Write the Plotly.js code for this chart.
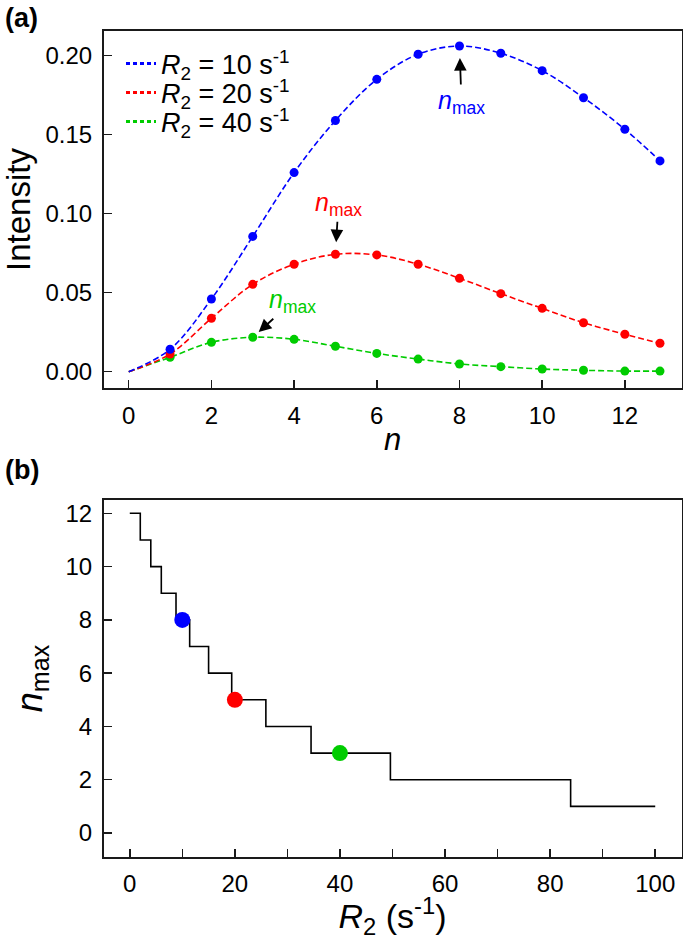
<!DOCTYPE html>
<html>
<head>
<meta charset="utf-8">
<script src="https://cdn.plot.ly/plotly-3.0.1.min.js"></script>
<style>html,body{margin:0;padding:0;background:#fff;}#chart{width:685px;height:940px;}</style>
</head>
<body>
<div id="chart"></div>
<script>
// ---- Data ----
const nValues = [0, 1, 2, 3, 4, 5, 6, 7, 8, 9, 10, 11, 12, 12.85];
const intensityR10 = [0, 0.0142, 0.046, 0.0856, 0.126, 0.159, 0.185, 0.2009, 0.2061, 0.2015, 0.1905, 0.1734, 0.1534, 0.1334];
const intensityR20 = [0, 0.0112, 0.0338, 0.0553, 0.068, 0.0743, 0.0739, 0.068, 0.0591, 0.0494, 0.0401, 0.031, 0.0237, 0.018];
const intensityR40 = [0, 0.0091, 0.0186, 0.0218, 0.0205, 0.0161, 0.0116, 0.008, 0.0049, 0.0032, 0.0017, 0.0009, 0.0004, 0.0004];
const seriesNames = ['<i>R</i><sub>2</sub> = 10 s<sup>-1</sup>', '<i>R</i><sub>2</sub> = 20 s<sup>-1</sup>', '<i>R</i><sub>2</sub> = 40 s<sup>-1</sup>'];
const seriesColors = ['#0000ff', '#ff0000', '#00cc00'];

const r2Steps = [0, 2.0, 4.0, 6.0, 8.8, 11.4, 15.0, 19.4, 25.9, 34.5, 49.6, 83.9, 100];
const nmaxSteps = [12, 11, 10, 9, 8, 7, 6, 5, 4, 3, 2, 1, 1];
const r2Marked = [10, 20, 40];
const nmaxMarked = [8, 5, 3];

const xTicksTop = [0, 2, 4, 6, 8, 10, 12];
const yTicksTop = [0, 0.05, 0.10, 0.15, 0.20];
const xTicksBottom = [0, 20, 40, 60, 80, 100];
const yTicksBottom = [0, 2, 4, 6, 8, 10, 12];

// ---- Build traces ----
const FONT = 'Liberation Sans, Arial, sans-serif';
const allSeries = [intensityR10, intensityR20, intensityR40];
const legendIds = ['legend', 'legend2', 'legend3'];
const traces = [];
// draw green, red, blue (blue on top)
[2, 1, 0].forEach(i => {
  traces.push({
    x: nValues, y: allSeries[i], xaxis: 'x', yaxis: 'y', type: 'scatter', mode: 'lines',
    line: {color: seriesColors[i], width: 1.6, dash: '6px,3px', shape: 'spline', smoothing: 1},
    showlegend: false, hoverinfo: 'skip'
  });
  traces.push({
    x: nValues.slice(1), y: allSeries[i].slice(1), xaxis: 'x', yaxis: 'y', type: 'scatter', mode: 'markers',
    marker: {color: seriesColors[i], size: 9},
    showlegend: false
  });
});
// legend entries (dotted lines), one legend box per row
[0, 1, 2].forEach(i => {
  traces.push({
    x: [null], y: [null], xaxis: 'x', yaxis: 'y', type: 'scatter', mode: 'lines',
    name: seriesNames[i], legend: legendIds[i], line: {color: seriesColors[i], width: 3, dash: '4px,3px'}
  });
});
// bottom panel
traces.push({
  x: r2Steps, y: nmaxSteps, xaxis: 'x2', yaxis: 'y2', type: 'scatter', mode: 'lines',
  line: {color: '#000', width: 1.6, shape: 'hv'}, showlegend: false
});
traces.push({
  x: r2Marked, y: nmaxMarked, xaxis: 'x2', yaxis: 'y2', type: 'scatter', mode: 'markers',
  marker: {color: seriesColors, size: 16}, showlegend: false
});

const W = 685, H = 940;
const xDom = [103.5 / W, 681.5 / W];
const yDomTop = [1 - 388.3 / H, 1 - 30.7 / H];
const yDomBot = [1 - 857 / H, 1 - 500 / H];

const axisCommon = {
  showline: true, linecolor: '#1a1a1a', linewidth: 1.6, mirror: true,
  ticks: 'inside', ticklen: 8, tickwidth: 1.5, tickcolor: '#1a1a1a',
  ticklabelstandoff: 5,
  showgrid: false, zeroline: false,
  tickfont: {family: FONT, size: 24, color: '#000'}
};

const annFont = {family: FONT, size: 25};
const annotations = [
  {x: 8, y: intensityR10[8], xref: 'x', yref: 'y', text: '<i>n</i><sub>max</sub>', font: Object.assign({color: seriesColors[0]}, annFont),
   showarrow: true, arrowhead: 2, arrowsize: 1.4, arrowwidth: 1.8, arrowcolor: '#000', ax: 2, ay: 56, standoff: 12},
  {x: 5, y: intensityR20[5], xref: 'x', yref: 'y', text: '<i>n</i><sub>max</sub>', font: Object.assign({color: seriesColors[1]}, annFont),
   showarrow: true, arrowhead: 2, arrowsize: 1.4, arrowwidth: 1.8, arrowcolor: '#000', ax: 3, ay: -50, standoff: 12},
  {x: 3, y: intensityR40[3], xref: 'x', yref: 'y', text: '<i>n</i><sub>max</sub>', font: Object.assign({color: seriesColors[2]}, annFont),
   showarrow: true, arrowhead: 2, arrowsize: 1.4, arrowwidth: 1.8, arrowcolor: '#000', ax: 40, ay: -36, standoff: 8},
  {x: 3 / W, y: 1 - 18 / H, xref: 'paper', yref: 'paper', text: '<b>(a)</b>', showarrow: false,
   xanchor: 'left', yanchor: 'middle', font: {family: FONT, size: 27, color: '#000'}},
  {x: 3 / W, y: 1 - 470 / H, xref: 'paper', yref: 'paper', text: '<b>(b)</b>', showarrow: false,
   xanchor: 'left', yanchor: 'middle', font: {family: FONT, size: 27, color: '#000'}}
];

const legendBase = {xanchor: 'left', yanchor: 'middle', bgcolor: 'rgba(0,0,0,0)', itemwidth: 30,
                    font: {family: FONT, size: 27, color: '#000'}};
const legendRowsY = [64, 93, 122];

const layout = {
  width: W, height: H,
  margin: {l: 0, r: 0, t: 0, b: 0},
  paper_bgcolor: '#fff', plot_bgcolor: '#fff',
  font: {family: FONT, color: '#000'},
  showlegend: true,
  legend: Object.assign({}, legendBase, {x: 121 / W, y: 1 - legendRowsY[0] / H}),
  legend2: Object.assign({}, legendBase, {x: 121 / W, y: 1 - legendRowsY[1] / H}),
  legend3: Object.assign({}, legendBase, {x: 121 / W, y: 1 - legendRowsY[2] / H}),
  xaxis: Object.assign({}, axisCommon, {domain: xDom, anchor: 'y', range: [-0.61, 13.37],
    tickvals: xTicksTop, ticktext: xTicksTop.map(String),
    title: {text: '<i>n</i>', font: {family: FONT, size: 31}, standoff: 0}}),
  yaxis: Object.assign({}, axisCommon, {domain: yDomTop, anchor: 'x', range: [-0.0105, 0.2158],
    tickvals: yTicksTop, ticktext: yTicksTop.map(v => v.toFixed(2)),
    title: {text: 'Intensity', font: {family: FONT, size: 33}, standoff: 8}}),
  xaxis2: Object.assign({}, axisCommon, {domain: xDom, anchor: 'y2', range: [-5, 105],
    tickvals: xTicksBottom, ticktext: xTicksBottom.map(String),
    minor: {dtick: 10, ticks: 'inside', ticklen: 8, tickwidth: 1.5, tickcolor: '#1a1a1a', showgrid: false},
    title: {text: '<i>R</i><sub>2</sub> (s<sup>-1</sup>)', font: {family: FONT, size: 34}, standoff: 2}}),
  yaxis2: Object.assign({}, axisCommon, {domain: yDomBot, anchor: 'x2', range: [-0.9, 12.5],
    tickvals: yTicksBottom, ticktext: yTicksBottom.map(String),
    title: {text: '<i>n</i><sub>max</sub>', font: {family: FONT, size: 36}, standoff: 12}}),
  annotations: annotations
};

Plotly.newPlot('chart', traces, layout, {displayModeBar: false, staticPlot: true});
</script>
</body>
</html>
